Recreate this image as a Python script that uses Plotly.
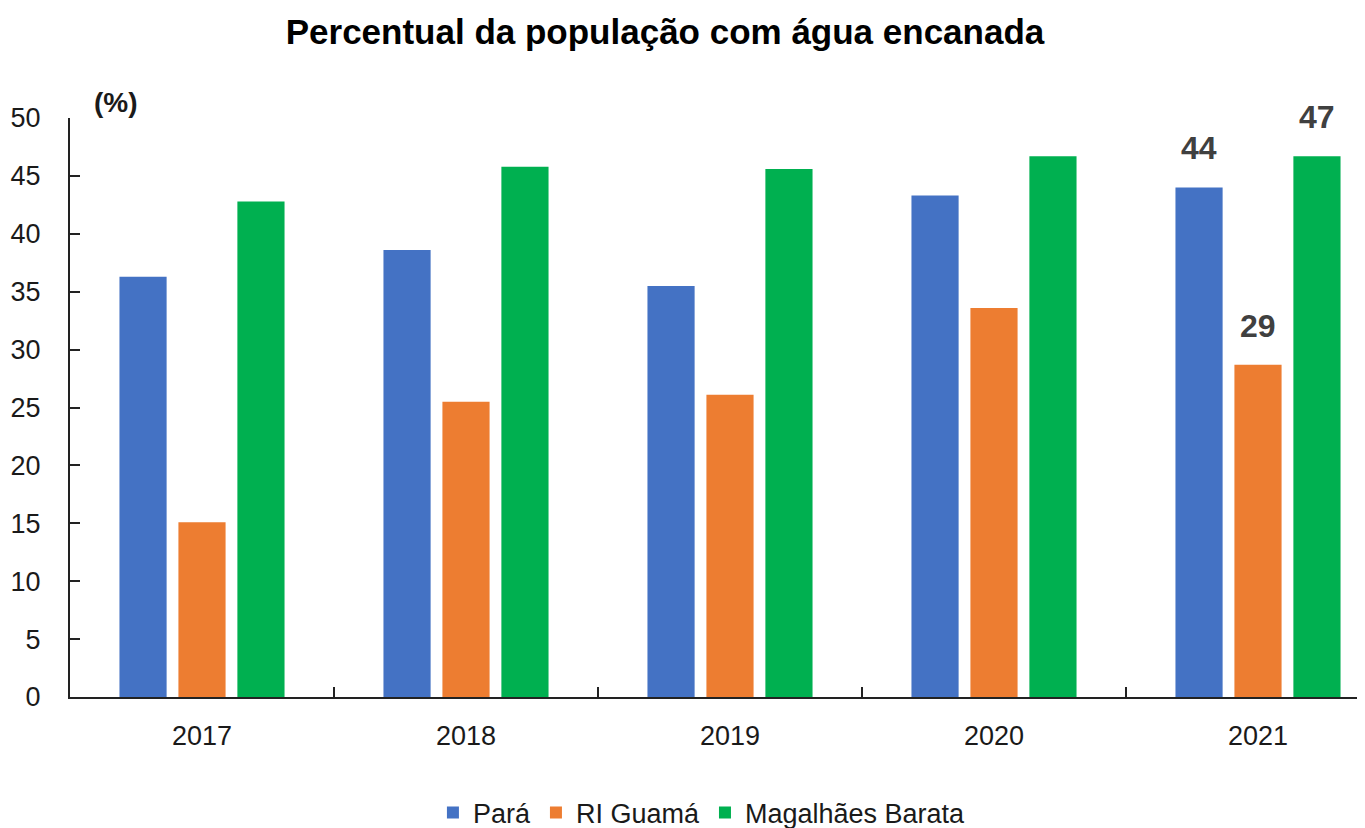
import plotly.graph_objects as go

years = ["2017", "2018", "2019", "2020", "2021"]
para = [36.3, 38.6, 35.5, 43.3, 44.0]
ri_guama = [15.1, 25.5, 26.1, 33.6, 28.7]
magalhaes = [42.8, 45.8, 45.6, 46.7, 46.7]

series = [
    ("Pará", para, "#4472C4"),
    ("RI Guamá", ri_guama, "#ED7D31"),
    ("Magalhães Barata", magalhaes, "#00B050"),
]

# Labelled values (last year only)
label_year = "2021"
label_offsets = [-59, 0, 59]

FONT = "Liberation Sans, Arial, sans-serif"
TXT = "#1a1a1a"

# page offset of the figure (body margin) compensated in positions below
OFF = 8
W, H = 1365, 828
L, R, T, B = 70 - OFF, 0, 118 - OFF, H - (697 - OFF)
pw, ph = W - L - R, H - T - B
cat_px = 264
x_end = -0.5 + pw / cat_px

fig = go.Figure()
for name, vals, color in series:
    fig.add_trace(go.Bar(x=years, y=vals, name=name, marker=dict(color=color, line=dict(width=0))))

annotations = []
idx = years.index(label_year)
for (name, vals, color), dx in zip(series, label_offsets):
    annotations.append(dict(
        x=idx, y=vals[idx], xref="x", yref="y",
        text=f"<b>{round(vals[idx]):d}</b>", showarrow=False,
        xshift=dx, yshift=39, yanchor="middle", xanchor="center",
        font=dict(family=FONT, size=32, color="#404040"),
    ))
annotations.append(dict(
    x=(92 - OFF - L) / pw, y=(H - B - (103 - OFF)) / ph, xref="paper", yref="paper",
    text="<b>(%)</b>", showarrow=False,
    xanchor="left", yanchor="middle", font=dict(family=FONT, size=28, color=TXT),
))

fig.update_layout(
    width=W, height=H,
    margin=dict(l=L, r=R, t=T, b=B, autoexpand=False),
    paper_bgcolor="white", plot_bgcolor="white",
    barmode="group", bargap=0.33, bargroupgap=0.2,
    font=dict(family=FONT, size=27, color=TXT),
    title=dict(text="<b>Percentual da população com água encanada</b>",
               x=(665 - OFF) / W, xanchor="center", y=1 - (32 - OFF) / H, yanchor="middle",
               font=dict(family=FONT, size=35, color="#000000")),
    legend=dict(orientation="h", x=(670 - OFF) / W, xanchor="center",
                y=-((813 - OFF) - (H - B)) / ph, yanchor="middle",
                font=dict(family=FONT, size=27, color=TXT), itemwidth=30, bgcolor="rgba(0,0,0,0)"),
    annotations=annotations,
    showlegend=True,
)
fig.update_xaxes(
    type="category", range=[-0.5, x_end], automargin=False,
    showline=True, linecolor="#222222", linewidth=2,
    ticks="inside", tickson="boundaries", ticklen=10, tickwidth=2, tickcolor="#222222",
    showgrid=False, ticklabelstandoff=14,
    tickfont=dict(family=FONT, size=27, color=TXT),
)
fig.update_yaxes(
    range=[0, 50], dtick=5, tick0=0, automargin=False,
    showline=True, linecolor="#222222", linewidth=2,
    ticks="inside", ticklen=10, tickwidth=2, tickcolor="#222222",
    showgrid=False, zeroline=False, ticklabelstandoff=22,
    tickfont=dict(family=FONT, size=27, color=TXT),
)

fig.write_html("out.html")
